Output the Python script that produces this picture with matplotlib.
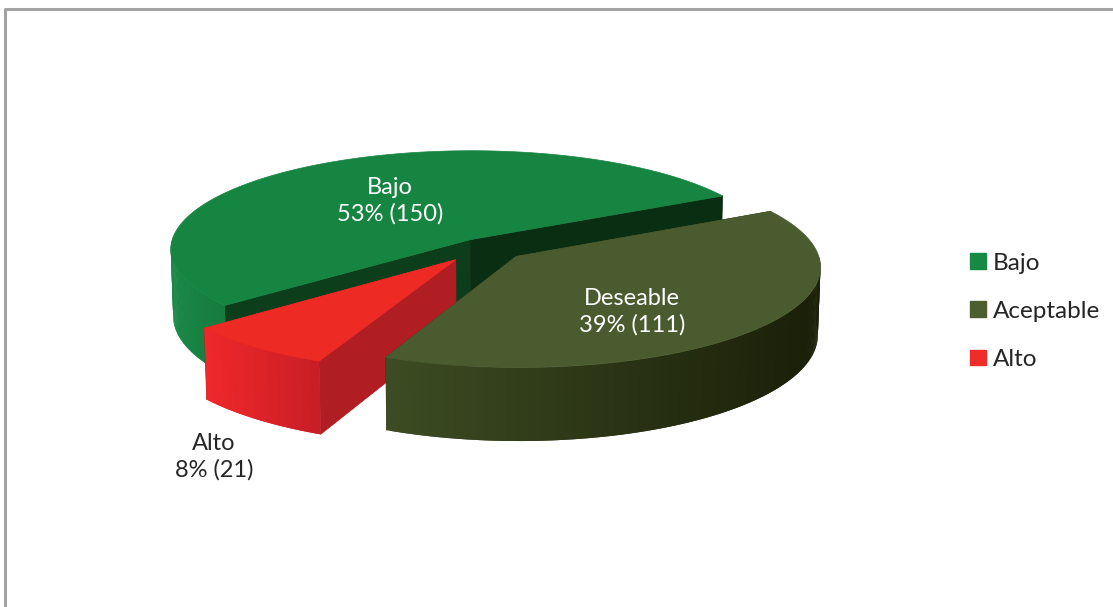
import numpy as np
import matplotlib.pyplot as plt
from matplotlib.patches import Polygon, Patch
from matplotlib.colors import to_rgb

# data, in the order the slices run clockwise
labels = ['Bajo', 'Deseable', 'Alto']
legend_labels = ['Bajo', 'Aceptable', 'Alto']
counts = [150, 111, 21]
pct_text = ['53%', '39%', '8%']

top_colors = ['#168541', '#4a5c2f', '#ee2a24']
wall_colors = [('#1a8846', '#167c3d'), ('#3d4c23', '#1a1f08'), ('#f0282a', '#c91e26')]
face_colors = [('#0d3e1b', '#0a2e12'), ('#2a3415', '#2a3415'), ('#b01d23', '#b01d23')]
legend_colors = ['#168a45', '#4d5e30', '#ee2c2a']
explode = [0.09, 0.14, 0.16]

plt.rcParams['font.family'] = ['Lato', 'DejaVu Sans']

# camera / pie geometry (pixel space)
cx, cy = 485, 247
f = 3000.0
dist = 10.0
elev = np.radians(19.2)
h = 0.238
start_angle = 219.5


def project(X, Y, Z):
    yc = Z * np.cos(elev) + Y * np.sin(elev)
    d = dist + Y * np.cos(elev) - Z * np.sin(elev)
    return cx + f * X / d, cy - f * yc / d


def rim(theta, ox, oy, z):
    t = np.radians(theta)
    return project(ox + np.cos(t), oy + np.sin(t), z)


def mix(c1, c2, t):
    a, b = np.array(to_rgb(c1)), np.array(to_rgb(c2))
    return tuple(a + (b - a) * t)


fig = plt.figure(figsize=(11.13, 6.07), dpi=100)
ax = fig.add_axes([0, 0, 1, 1])
ax.set_xlim(0, 1113)
ax.set_ylim(607, 0)
ax.axis('off')

# chart area border
ax.plot([5, 5, 1113], [607, 9, 9], color='#a3a3a3', lw=2.2, solid_capstyle='butt')

total = float(sum(counts))
spans = []
a = start_angle
for c in counts:
    sweep = 360.0 * c / total
    spans.append((a - sweep, a))
    a -= sweep

# Bajo is at the back, then Alto, then Deseable in front
for i in [0, 2, 1]:
    lo, hi = spans[i]
    mid = np.radians((lo + hi) / 2)
    ox, oy = explode[i] * np.cos(mid), explode[i] * np.sin(mid)
    c_top = project(ox, oy, 0)
    c_bot = project(ox, oy, -h)

    # radial faces
    for th, fc in zip([hi, lo], face_colors[i]):
        pts = [c_top, rim(th, ox, oy, 0), rim(th, ox, oy, -h), c_bot]
        ax.add_patch(Polygon(pts, closed=True, fc=fc, ec=fc, lw=0.5))

    # outer wall, front half only, shaded across its width
    n = int(abs(hi - lo) * 2) + 2
    th = np.linspace(lo, hi, n)
    vis = [k for k in range(n - 1) if np.sin(np.radians((th[k] + th[k + 1]) / 2)) < 0]
    if vis:
        xs = [rim(th[k], ox, oy, 0)[0] for k in vis]
        x0, x1 = min(xs), max(xs)
        last = vis[-1] + 1
        for k in vis:
            k2 = min(k + 2, last)  # overlap neighbours so no seams show
            xm = rim((th[k] + th[k + 1]) / 2, ox, oy, 0)[0]
            t = (xm - x0) / max(x1 - x0, 1)
            col = mix(wall_colors[i][0], wall_colors[i][1], t)
            seg = np.linspace(th[k], th[k2], 3)
            pts = [rim(s, ox, oy, 0) for s in seg] + [rim(s, ox, oy, -h) for s in seg[::-1]]
            ax.add_patch(Polygon(pts, closed=True, fc=col, lw=0))

    # top surface
    arc = np.linspace(lo, hi, 200)
    pts = [c_top] + [rim(t, ox, oy, 0) for t in arc]
    ax.add_patch(Polygon(pts, closed=True, fc=top_colors[i], ec=top_colors[i], lw=0.5))

# data labels
label_pos = [(390, 201), (632, 312), (214, 457)]
label_col = ['white', 'white', '#262626']
for i in range(3):
    ax.text(label_pos[i][0], label_pos[i][1], '%s\n%s (%d)' % (labels[i], pct_text[i], counts[i]),
            ha='center', va='center', fontsize=17, color=label_col[i], linespacing=1.3)

handles = [Patch(fc=c, ec=c) for c in legend_colors]
leg = ax.legend(handles, legend_labels, loc='center left', bbox_to_anchor=(0.861, 0.487),
                frameon=False, fontsize=17.5, handlelength=0.62, handleheight=0.62,
                handletextpad=0.3, labelspacing=1.12, borderpad=0)
for t in leg.get_texts():
    t.set_color('#262626')

fig.savefig('out.png', dpi=100)
